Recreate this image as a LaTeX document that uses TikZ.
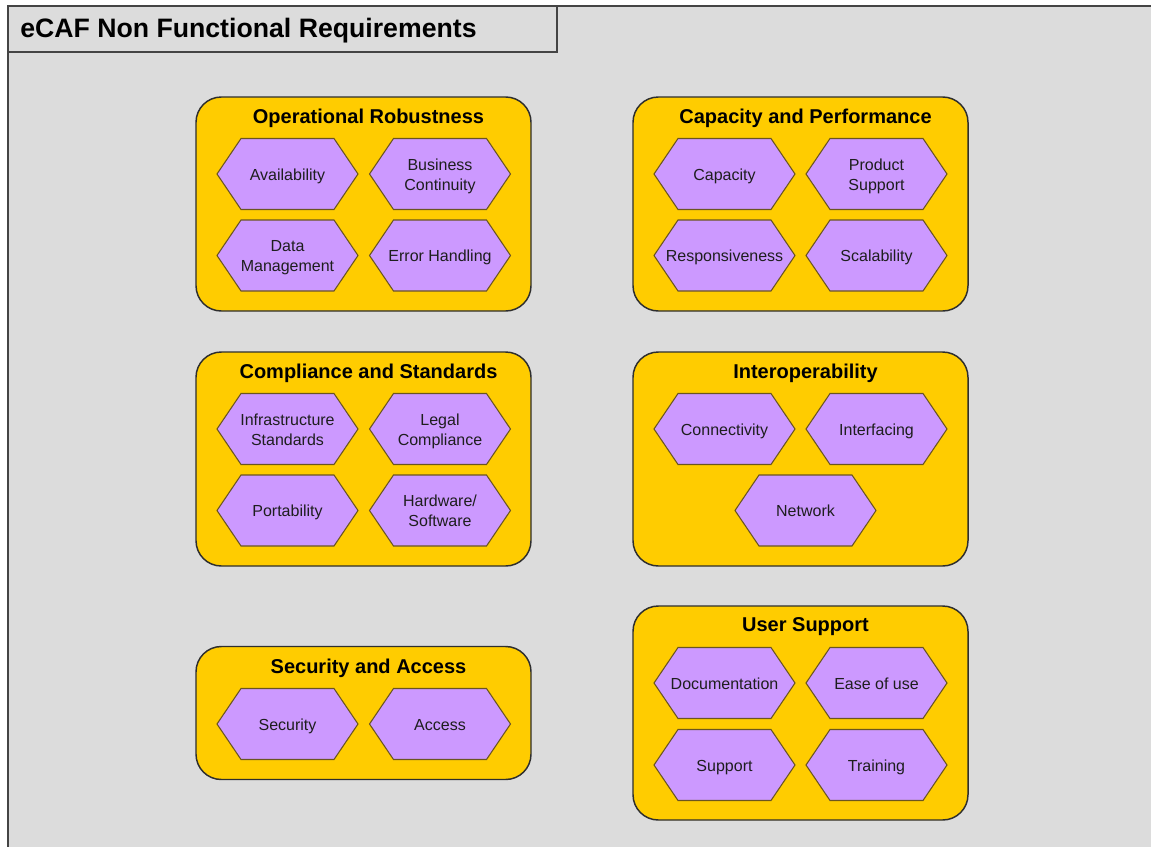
\documentclass[tikz,border=0pt]{standalone}
\usepackage{fontspec}
\setmainfont{Liberation Sans}
\definecolor{bgray}{HTML}{DCDCDC}
\definecolor{grpyellow}{HTML}{FFCC00}
\definecolor{hexpurple}{HTML}{CC99FF}
\definecolor{hexborder}{HTML}{6B5520}
\definecolor{grpborder}{HTML}{2E2E2E}
\definecolor{framecol}{HTML}{444444}
\definecolor{hextxt}{HTML}{1E1E1E}
\newcommand\hexitem[4]{%
  \path[hexshape] ({#2-70.5},{#3}) -- ({#2-46.5},{#3-35.5}) -- ({#2+46.5},{#3-35.5})
    -- ({#2+70.5},{#3}) -- ({#2+46.5},{#3+35.5}) -- ({#2-46.5},{#3+35.5}) -- cycle;
  \node[hextext] (#1) at (#2,{#3+2}) {\strut#4\strut};}
\begin{document}
\begin{tikzpicture}[x=0.75pt,y=-0.75pt,
  framebox/.style={draw=framecol,line width=0.9pt,fill=bgray},
  group/.style={draw=grpborder,line width=1.1pt,fill=grpyellow,rounded corners=19pt,
    minimum width=251.25pt},
  grouptitle/.style={font=\bfseries\fontsize{15}{18}\selectfont,text=black},
  hexshape/.style={draw=hexborder,line width=0.8pt,fill=hexpurple},
  hextext/.style={align=center,text=hextxt,font=\fontsize{12}{15}\selectfont,inner sep=0pt}]
\useasboundingbox (0,0) rectangle (1151,846);
\fill[white] (0,0) rectangle (1151,846);
\draw[framebox] (8,6) rectangle (1190,890);
\path[draw=framecol,line width=0.9pt,fill=bgray] (8,6) rectangle (557,52);
\node[font=\bfseries\fontsize{20}{24}\selectfont,anchor=west,inner sep=0pt] (title) at (20,31) {eCAF Non Functional Requirements};

% Operational Robustness
\node[group,minimum height=160.5pt] (opr) at (363.5,204) {};
\node[grouptitle] (oprt) at (368.5,118) {Operational Robustness};
\hexitem{avail}{287.5}{174}{Availability}
\hexitem{buscont}{440}{174}{Business\\Continuity}
\hexitem{datamgmt}{287.5}{255.5}{Data\\Management}
\hexitem{errh}{440}{255.5}{Error Handling}

% Capacity and Performance
\node[group,minimum height=160.5pt] (cap) at (800.5,204) {};
\node[grouptitle] (capt) at (805.5,118) {Capacity and Performance};
\hexitem{capacity}{724.5}{174}{Capacity}
\hexitem{prodsup}{876.5}{174}{Product\\Support}
\hexitem{resp}{724.5}{255.5}{Responsiveness}
\hexitem{scal}{876.5}{255.5}{Scalability}

% Compliance and Standards
\node[group,minimum height=160.5pt] (comp) at (363.5,459) {};
\node[grouptitle] (compt) at (368.5,373) {Compliance and Standards};
\hexitem{infra}{287.5}{429}{Infrastructure\\Standards}
\hexitem{legal}{440}{429}{Legal\\Compliance}
\hexitem{port}{287.5}{510.5}{Portability}
\hexitem{hwsw}{440}{510.5}{Hardware/\\Software}

% Interoperability
\node[group,minimum height=160.5pt] (inter) at (800.5,459) {};
\node[grouptitle] (intert) at (805.5,373) {Interoperability};
\hexitem{conn}{724.5}{429}{Connectivity}
\hexitem{intf}{876.5}{429}{Interfacing}
\hexitem{netw}{805.5}{510.5}{Network}

% Security and Access
\node[group,minimum height=99.75pt] (sec) at (363.5,713) {};
\node[grouptitle] (sect) at (368.5,668) {Security and Access};
\hexitem{security}{287.5}{724}{Security}
\hexitem{access}{440}{724}{Access}

% User Support
\node[group,minimum height=160.5pt] (usr) at (800.5,713) {};
\node[grouptitle] (usrt) at (805.5,627) {User Support};
\hexitem{doc}{724.5}{683}{Documentation}
\hexitem{ease}{876.5}{683}{Ease of use}
\hexitem{supp}{724.5}{765}{Support}
\hexitem{train}{876.5}{765}{Training}
\end{tikzpicture}
\end{document}
